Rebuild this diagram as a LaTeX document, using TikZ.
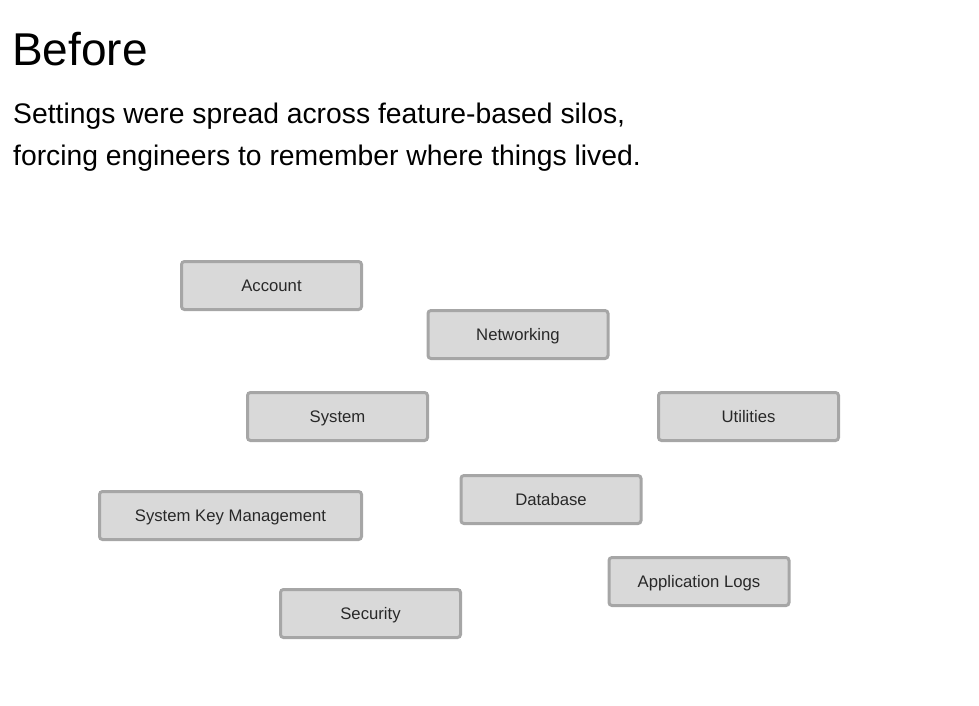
\documentclass[tikz,border=0pt]{standalone}
\usepackage{fontspec}
\usepackage{xcolor}
\setmainfont{Liberation Sans}
\usepackage{tikz}

\begin{document}
\begin{tikzpicture}[x=1pt, y=-1pt, every node/.style={font=\fontsize{16.7}{20}\selectfont},
    silo/.style={draw=bordeG, fill=rellenoG, line width=3pt, rounded corners=3pt,
        minimum width=180pt, minimum height=48pt, text=textoG, inner sep=0pt,
        text height=12pt, text depth=0pt}]

    % Definimos colores
    \definecolor{bordeG}{RGB}{166,166,166}  % borde gris
    \definecolor{rellenoG}{RGB}{217,217,217} % relleno gris
    \definecolor{textoG}{RGB}{40,40,40}     % texto

    \useasboundingbox (0,0) rectangle (979,705);

    % Titulo y subtitulo
    \node[anchor=base west, inner sep=0pt, font=\fontsize{46}{50}\selectfont] (titulo) at (12,65) {Before};
    \node[anchor=base west, inner sep=0pt, font=\fontsize{28.3}{42}\selectfont] (sub1) at (13,123) {Settings were spread across feature-based silos,};
    \node[anchor=base west, inner sep=0pt, font=\fontsize{28.3}{42}\selectfont] (sub2) at (13,165) {forcing engineers to remember where things lived.};

    % Silos
    \node[silo] (account) at (271.5,285.5) {Account};
    \node[silo] (networking) at (518,334.5) {Networking};
    \node[silo] (system) at (337.5,416.5) {System};
    \node[silo] (utilities) at (748.5,416.5) {Utilities};
    \node[silo] (database) at (551,499.5) {Database};
    \node[silo, minimum width=262pt] (keymgmt) at (230.5,515.5) {System Key Management};
    \node[silo] (applogs) at (699,581.5) {Application Logs};
    \node[silo] (security) at (370.5,613.5) {Security};

\end{tikzpicture}
\end{document}
